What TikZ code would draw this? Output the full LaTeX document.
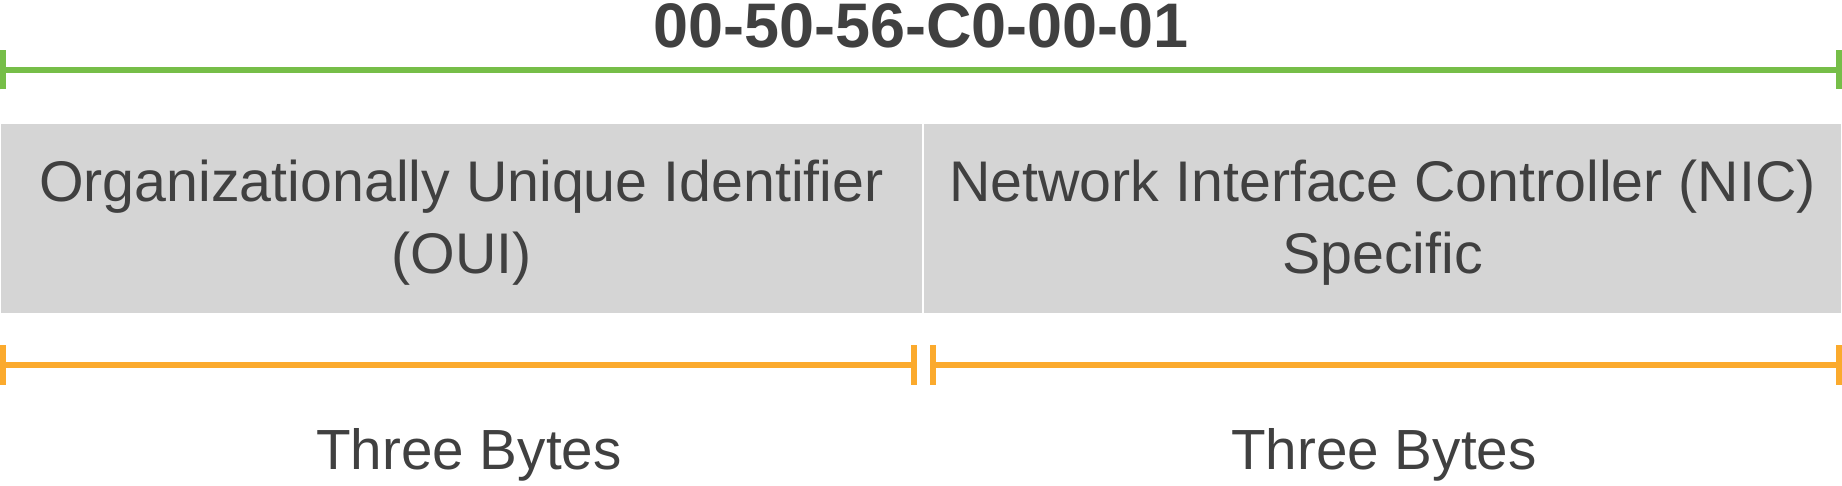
\documentclass[tikz,border=0pt]{standalone}
\usepackage{fontspec}
\setmainfont{Liberation Sans}
\usetikzlibrary{arrows.meta, positioning}
\definecolor{macgreen}{RGB}{118,190,72}
\definecolor{byteorange}{RGB}{251,170,45}
\definecolor{fieldgray}{RGB}{213,213,213}
\definecolor{textgray}{RGB}{64,64,64}
\tikzstyle{field} = [rectangle, fill=fieldgray, text=textgray, align=center, inner sep=0pt, minimum height=1.89cm, text height=1.23cm, text depth=0.12cm, font=\fontsize{16.3}{20.5}\selectfont]
\tikzstyle{span} = [line width=0.06cm, {Bar[width=0.39cm]}-{Bar[width=0.39cm]}]
\tikzstyle{bytetext} = [text=textgray, inner sep=0pt, anchor=base, font=\fontsize{16.1}{20}\selectfont]
\tikzstyle{macaddr} = [text=textgray, inner sep=0pt, anchor=base, font=\fontsize{17.9}{20}\selectfont\bfseries]

\begin{document}
\begin{tikzpicture}[x=0.01cm, y=-0.01cm]
\useasboundingbox (0,0) rectangle (1842,486);
\node [macaddr] (mac) at (921,48) {00-50-56-C0-00-01};
\coordinate (macL) at (0,70);
\coordinate (macR) at (1842,70);
\node [field, minimum width=9.21cm, anchor=north west] (oui) at (0,123) {Organizationally Unique Identifier\\(OUI)};
\node [field, minimum width=9.17cm, anchor=north east] (nic) at (1842,123) {Network Interface Controller (NIC)\\Specific};
\coordinate (ouiL) at (0,365);
\coordinate (ouiR) at (917,365);
\coordinate (nicL) at (930,365);
\coordinate (nicR) at (1842,365);
\node [bytetext] (ouibytes) at (469,470) {Three Bytes};
\node [bytetext] (nicbytes) at (1384,470) {Three Bytes};
\draw [span, macgreen] (macL) -- (macR);
\draw [span, byteorange] (ouiL) -- (ouiR);
\draw [span, byteorange] (nicL) -- (nicR);
\end{tikzpicture}
\end{document}
